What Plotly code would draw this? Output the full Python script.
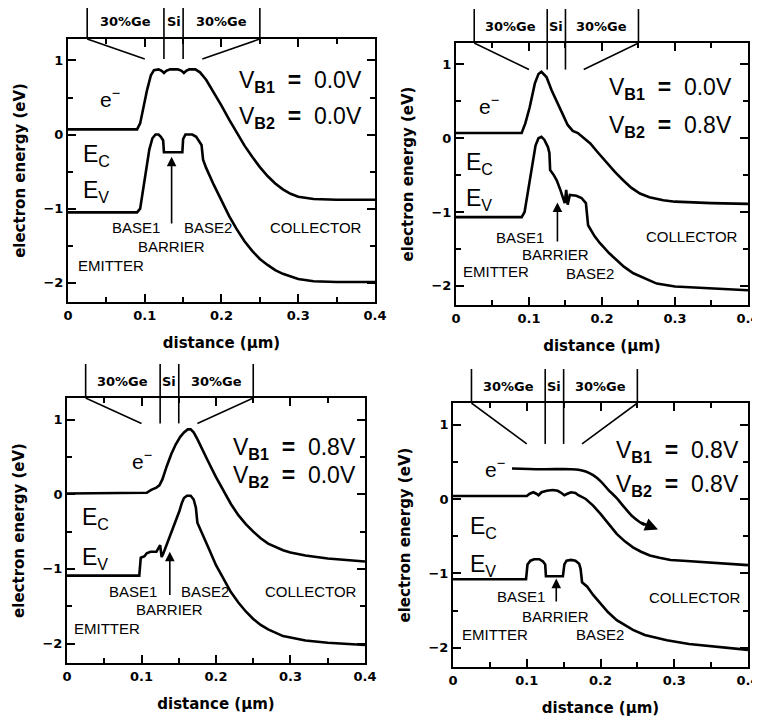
import plotly.graph_objects as go

# ---------------- data ----------------
# Panel 1: VB1 = 0.0 V, VB2 = 0.0 V
p1_ec_x = [0, 0.09, 0.094, 0.098, 0.103, 0.108, 0.112, 0.118, 0.122, 0.125, 0.128, 0.133, 0.143, 0.148,
           0.151, 0.154, 0.158, 0.166, 0.172, 0.18, 0.19, 0.2, 0.21, 0.22, 0.23, 0.24, 0.25, 0.26, 0.27,
           0.28, 0.29, 0.3, 0.32, 0.35, 0.4]
p1_ec_y = [0.07, 0.07, 0.15, 0.35, 0.6, 0.8, 0.87, 0.88, 0.86, 0.83, 0.86, 0.88, 0.88, 0.86,
           0.83, 0.86, 0.88, 0.88, 0.84, 0.74, 0.57, 0.39, 0.2, 0.02, -0.15, -0.3, -0.44, -0.56, -0.66,
           -0.74, -0.8, -0.84, -0.87, -0.88, -0.88]
p1_ev_x = [0, 0.09, 0.094, 0.098, 0.102, 0.106, 0.11, 0.114, 0.118, 0.121, 0.124, 0.125, 0.149, 0.15,
           0.153, 0.162, 0.167, 0.172, 0.174, 0.176, 0.18, 0.19, 0.2, 0.21, 0.22, 0.23, 0.24, 0.25,
           0.26, 0.27, 0.28, 0.29, 0.3, 0.32, 0.35, 0.4]
p1_ev_y = [-1.05, -1.05, -1.0, -0.75, -0.45, -0.2, -0.05, 0.0, 0.0, -0.03, -0.08, -0.24, -0.24, -0.06,
           0.0, 0.0, -0.03, -0.1, -0.14, -0.34, -0.45, -0.68, -0.9, -1.1, -1.28, -1.44, -1.57, -1.68,
           -1.76, -1.83, -1.88, -1.92, -1.95, -1.98, -1.99, -1.99]

# Panel 2: VB1 = 0.0 V, VB2 = 0.8 V
p2_ec_x = [0, 0.09, 0.095, 0.101, 0.108, 0.113, 0.117, 0.124, 0.131, 0.138, 0.146, 0.153, 0.16, 0.167,
           0.175, 0.184, 0.195, 0.207, 0.218, 0.229, 0.24, 0.252, 0.265, 0.284, 0.3, 0.35, 0.4]
p2_ec_y = [0.07, 0.07, 0.2, 0.42, 0.74, 0.87, 0.9, 0.83, 0.65, 0.51, 0.33, 0.18, 0.1, 0.07,
           0.0, -0.07, -0.2, -0.34, -0.46, -0.57, -0.67, -0.75, -0.8, -0.84, -0.86, -0.88, -0.89]
p2_ev_x = [0, 0.09, 0.094, 0.1, 0.105, 0.109, 0.113, 0.117, 0.121, 0.126, 0.128, 0.129, 0.134, 0.138,
           0.143, 0.149, 0.151, 0.153, 0.156, 0.165, 0.172, 0.178, 0.181, 0.19, 0.197, 0.21, 0.22, 0.23,
           0.243, 0.26, 0.275, 0.3, 0.35, 0.4]
p2_ev_y = [-1.07, -1.07, -1.0, -0.66, -0.35, -0.1, 0.0, 0.02, -0.02, -0.12, -0.2, -0.43, -0.5, -0.57,
           -0.7, -0.88, -0.7, -0.9, -0.77, -0.78, -0.81, -0.88, -1.18, -1.33, -1.42, -1.56, -1.65, -1.74,
           -1.83, -1.91, -1.97, -2.01, -2.04, -2.06]

# Panel 3: VB1 = 0.8 V, VB2 = 0.0 V
p3_ec_x = [0, 0.1, 0.107, 0.113, 0.12, 0.124, 0.128, 0.134, 0.14, 0.146, 0.152, 0.157, 0.162, 0.166,
           0.17, 0.175, 0.18, 0.19, 0.2, 0.21, 0.22, 0.23, 0.24, 0.25, 0.26, 0.27, 0.28, 0.29, 0.3,
           0.32, 0.35, 0.4]
p3_ec_y = [0.01, 0.01, 0.02, 0.06, 0.09, 0.12, 0.2, 0.38, 0.54, 0.67, 0.77, 0.83, 0.87, 0.87,
           0.83, 0.74, 0.63, 0.43, 0.23, 0.05, -0.13, -0.28, -0.4, -0.5, -0.59, -0.66, -0.71, -0.75,
           -0.78, -0.82, -0.86, -0.9]
p3_ev_x = [0, 0.097, 0.099, 0.104, 0.107, 0.112, 0.12, 0.123, 0.125, 0.127, 0.129, 0.134, 0.14, 0.146,
           0.151, 0.154, 0.157, 0.161, 0.166, 0.17, 0.173, 0.175, 0.18, 0.19, 0.2, 0.21, 0.22, 0.23,
           0.24, 0.25, 0.26, 0.27, 0.28, 0.29, 0.3, 0.32, 0.35, 0.4]
p3_ev_y = [-1.09, -1.09, -0.85, -0.83, -0.79, -0.77, -0.77, -0.72, -0.68, -0.84, -0.8, -0.67, -0.52,
           -0.37, -0.22, -0.12, -0.05, -0.02, -0.02, -0.07, -0.18, -0.38, -0.5, -0.72, -0.95, -1.14,
           -1.31, -1.45, -1.57, -1.67, -1.75, -1.81, -1.86, -1.9, -1.92, -1.96, -1.99, -2.02]

# Panel 4: VB1 = 0.8 V, VB2 = 0.8 V
p4_ec_x = [0, 0.1, 0.104, 0.109, 0.113, 0.116, 0.12, 0.127, 0.135, 0.142, 0.147, 0.151, 0.155, 0.16,
           0.166, 0.17, 0.18, 0.19, 0.2, 0.21, 0.222, 0.233, 0.244, 0.255, 0.267, 0.28, 0.295, 0.312,
           0.35, 0.4]
p4_ec_y = [0.04, 0.04, 0.07, 0.09, 0.07, 0.05, 0.09, 0.11, 0.12, 0.11, 0.08, 0.05, 0.07, 0.09,
           0.08, 0.05, 0.0, -0.09, -0.2, -0.33, -0.47, -0.57, -0.65, -0.71, -0.76, -0.79, -0.82, -0.83,
           -0.86, -0.89]
p4_ev_x = [0, 0.099, 0.101, 0.105, 0.11, 0.117, 0.122, 0.125, 0.126, 0.149, 0.151, 0.154, 0.16, 0.166,
           0.171, 0.173, 0.175, 0.182, 0.19, 0.2, 0.21, 0.222, 0.233, 0.244, 0.26, 0.29, 0.32, 0.35,
           0.4]
p4_ev_y = [-1.08, -1.08, -0.88, -0.83, -0.81, -0.81, -0.84, -0.88, -1.04, -1.04, -0.88, -0.83, -0.82,
           -0.83, -0.87, -0.94, -1.12, -1.18, -1.29, -1.4, -1.52, -1.63, -1.7, -1.76, -1.83, -1.9, -1.95,
           -1.98, -2.03]
# electron path (panel 4)
p4_path_x = [0.08, 0.12, 0.16, 0.172, 0.18, 0.19, 0.2, 0.21, 0.222, 0.233, 0.244, 0.253, 0.26]
p4_path_y = [0.41, 0.40, 0.40, 0.39, 0.37, 0.32, 0.24, 0.13, 0.01, -0.12, -0.24, -0.31, -0.35]
p4_arrow_tip = (0.278, -0.41)

bias_labels = [("0.0V", "0.0V"), ("0.0V", "0.8V"), ("0.8V", "0.0V"), ("0.8V", "0.8V")]
layer_bounds = [0.025, 0.125, 0.15, 0.25]
layer_names = ["30%Ge", "Si", "30%Ge"]
layer_low = [1.02, 0.93, 0.95, 0.74]    # lower end of the grading marks / Si lines

x_ticks = [0, 0.1, 0.2, 0.3, 0.4]
x_ticktext = ["0", "0.1", "0.2", "0.3", "0.4"]
y_ticks = [1, 0, -1, -2]
y_ticktext = ["1", "0", "\u22121", "\u22122"]

# label positions (data coords) per panel
region_labels = [
    {"BASE1": (0.088, -1.26), "BARRIER": (0.135, -1.51), "BASE2": (0.182, -1.26),
     "COLLECTOR": (0.323, -1.26), "EMITTER": (0.056, -1.77)},
    {"BASE1": (0.088, -1.35), "BARRIER": (0.136, -1.57), "BASE2": (0.183, -1.84),
     "COLLECTOR": (0.323, -1.33), "EMITTER": (0.055, -1.8)},
    {"BASE1": (0.089, -1.3), "BARRIER": (0.138, -1.55), "BASE2": (0.185, -1.3),
     "COLLECTOR": (0.328, -1.3), "EMITTER": (0.054, -1.8)},
    {"BASE1": (0.092, -1.31), "BARRIER": (0.139, -1.58), "BASE2": (0.199, -1.82),
     "COLLECTOR": (0.328, -1.33), "EMITTER": (0.057, -1.82)},
]
barrier_arrows = [(0.135, -1.22, -0.3), (0.139, -1.42, -0.87), (0.138, -1.37, -0.77), (0.14, -1.4, -1.07)]
ec_label_pos = [(0.037, -0.28), (0.032, -0.34), (0.038, -0.33), (0.041, -0.38)]
ev_label_pos = [(0.037, -0.77), (0.032, -0.83), (0.038, -0.86), (0.041, -0.89)]
e_label_pos = [(0.055, 0.5), (0.045, 0.45), (0.1, 0.46), (0.057, 0.42)]
vb_pos = [(0.386, 0.71, 0.23), (0.381, 0.68, 0.16), (0.39, 0.62, 0.24), (0.39, 0.64, 0.18)]

panels = [(p1_ec_x, p1_ec_y, p1_ev_x, p1_ev_y), (p2_ec_x, p2_ec_y, p2_ev_x, p2_ev_y),
          (p3_ec_x, p3_ec_y, p3_ev_x, p3_ev_y), (p4_ec_x, p4_ec_y, p4_ev_x, p4_ev_y)]

# ---------------- layout geometry ----------------
# the page body has an 8px margin, so the figure is slightly smaller than the window
W, H = 752, 712
x_domains = [[0.0798, 0.4880], [0.5957, 0.9840], [0.0785, 0.4747], [0.5918, 0.9840]]
y_domains = [[0.5871, 0.9565], [0.5829, 0.9508], [0.0801, 0.4522], [0.0744, 0.4452]]
Y_RANGE = [-2.26, 1.29]
X_RANGE = [0, 0.4]

FONT = "Liberation Sans, Arial, Helvetica, sans-serif"
BOLDFONT = "DejaVu Sans, Verdana, sans-serif"
NBSP = "\u00a0"
fig = go.Figure()
shapes = []
annotations = []

for i, (ecx, ecy, evx, evy) in enumerate(panels):
    n = "" if i == 0 else str(i + 1)
    xa, ya = "x" + n, "y" + n
    fig.add_trace(go.Scatter(x=ecx, y=ecy, mode="lines", xaxis=xa, yaxis=ya,
                             line=dict(color="black", width=2.6), showlegend=False, hoverinfo="skip"))
    fig.add_trace(go.Scatter(x=evx, y=evy, mode="lines", xaxis=xa, yaxis=ya,
                             line=dict(color="black", width=2.6), showlegend=False, hoverinfo="skip"))

    axis_common = dict(showline=True, linecolor="black", linewidth=2, mirror="ticks",
                       ticks="inside", ticklen=8, tickwidth=2, tickcolor="black",
                       showgrid=False, zeroline=False, automargin=False, ticklabeloverflow="allow",
                       tickfont=dict(family=BOLDFONT, size=13, color="black", weight="bold"))
    fig.update_layout(**{
        ("xaxis" + n): dict(axis_common, domain=x_domains[i], range=X_RANGE, anchor=ya,
                            tickvals=x_ticks, ticktext=x_ticktext,
                            minor=dict(dtick=0.05, tick0=0, ticks="inside", ticklen=5, tickwidth=1.5,
                                       tickcolor="black"),
                            title=dict(text="distance (\u03bcm)", standoff=16,
                                       font=dict(family=BOLDFONT, size=15, color="black", weight="bold"))),
        ("yaxis" + n): dict(axis_common, domain=y_domains[i], range=Y_RANGE, anchor=xa,
                            tickvals=y_ticks, ticktext=y_ticktext,
                            minor=dict(dtick=0.5, tick0=0, ticks="inside", ticklen=5, tickwidth=1.5,
                                       tickcolor="black"),
                            title=dict(text="electron energy (eV)", standoff=14,
                                       font=dict(family=BOLDFONT, size=15, color="black", weight="bold"))),
    })

    top = y_domains[i][1]
    ext = 34 / H
    # layer boundaries above the frame
    for b in layer_bounds:
        shapes.append(dict(type="line", xref=xa, yref="paper", x0=b, x1=b, y0=top, y1=top + ext,
                           line=dict(color="black", width=1.6)))
    for b in layer_bounds[1:3]:
        shapes.append(dict(type="line", xref=xa, yref=ya, x0=b, x1=b, y0=layer_low[i], y1=Y_RANGE[1],
                           line=dict(color="black", width=1.6)))
    # Ge grading lines
    shapes.append(dict(type="line", xref=xa, yref=ya, x0=layer_bounds[0], x1=0.1,
                       y0=Y_RANGE[1], y1=layer_low[i], line=dict(color="black", width=1.6)))
    shapes.append(dict(type="line", xref=xa, yref=ya, x0=0.175, x1=layer_bounds[3],
                       y0=layer_low[i], y1=Y_RANGE[1], line=dict(color="black", width=1.6)))
    for k, name in enumerate(layer_names):
        annotations.append(dict(xref=xa, yref="paper", x=(layer_bounds[k] + layer_bounds[k + 1]) / 2,
                                y=top + 17 / H, text=name, showarrow=False, yanchor="middle",
                                font=dict(family=BOLDFONT, size=13, color="black", weight="bold")))

    # band labels
    annotations.append(dict(xref=xa, yref=ya, x=ec_label_pos[i][0], y=ec_label_pos[i][1],
                            text="E<sub>C</sub>", showarrow=False,
                            font=dict(family=FONT, size=23, color="black")))
    annotations.append(dict(xref=xa, yref=ya, x=ev_label_pos[i][0], y=ev_label_pos[i][1],
                            text="E<sub>V</sub>", showarrow=False,
                            font=dict(family=FONT, size=23, color="black")))
    annotations.append(dict(xref=xa, yref=ya, x=e_label_pos[i][0], y=e_label_pos[i][1],
                            text="e<sup>\u2212</sup>", showarrow=False,
                            font=dict(family=FONT, size=21, color="black")))
    vx, vy1, vy2 = vb_pos[i]
    gap = NBSP * 2
    annotations.append(dict(xref=xa, yref=ya, x=vx, y=vy1, xanchor="right",
                            text="V<sub><b>B1</b></sub>" + gap + "<b>=</b>" + gap + bias_labels[i][0],
                            showarrow=False, font=dict(family=FONT, size=23, color="black")))
    annotations.append(dict(xref=xa, yref=ya, x=vx, y=vy2, xanchor="right",
                            text="V<sub><b>B2</b></sub>" + gap + "<b>=</b>" + gap + bias_labels[i][1],
                            showarrow=False, font=dict(family=FONT, size=23, color="black")))
    for name, (lx, ly) in region_labels[i].items():
        annotations.append(dict(xref=xa, yref=ya, x=lx, y=ly, text=name, showarrow=False,
                                font=dict(family=FONT, size=15, color="black")))
    bx, btail, btip = barrier_arrows[i]
    annotations.append(dict(xref=xa, yref=ya, axref=xa, ayref=ya, x=bx, y=btip, ax=bx, ay=btail,
                            text="", showarrow=True, arrowhead=2, arrowsize=1.2, arrowwidth=1.6,
                            arrowcolor="black"))

# electron trajectory in panel 4
fig.add_trace(go.Scatter(x=p4_path_x, y=p4_path_y, mode="lines", xaxis="x4", yaxis="y4",
                         line=dict(color="black", width=2.6, shape="spline"), showlegend=False,
                         hoverinfo="skip"))
annotations.append(dict(xref="x4", yref="y4", axref="x4", ayref="y4", x=p4_arrow_tip[0],
                        y=p4_arrow_tip[1], ax=p4_path_x[-2], ay=p4_path_y[-2], text="",
                        showarrow=True, arrowhead=2, arrowsize=1.0, arrowwidth=2.6, arrowcolor="black"))

fig.update_layout(width=W, height=H, margin=dict(l=0, r=0, t=0, b=0),
                  paper_bgcolor="white", plot_bgcolor="white", showlegend=False,
                  shapes=shapes, annotations=annotations,
                  font=dict(family=FONT, color="black"))
fig.write_html("out.html")
